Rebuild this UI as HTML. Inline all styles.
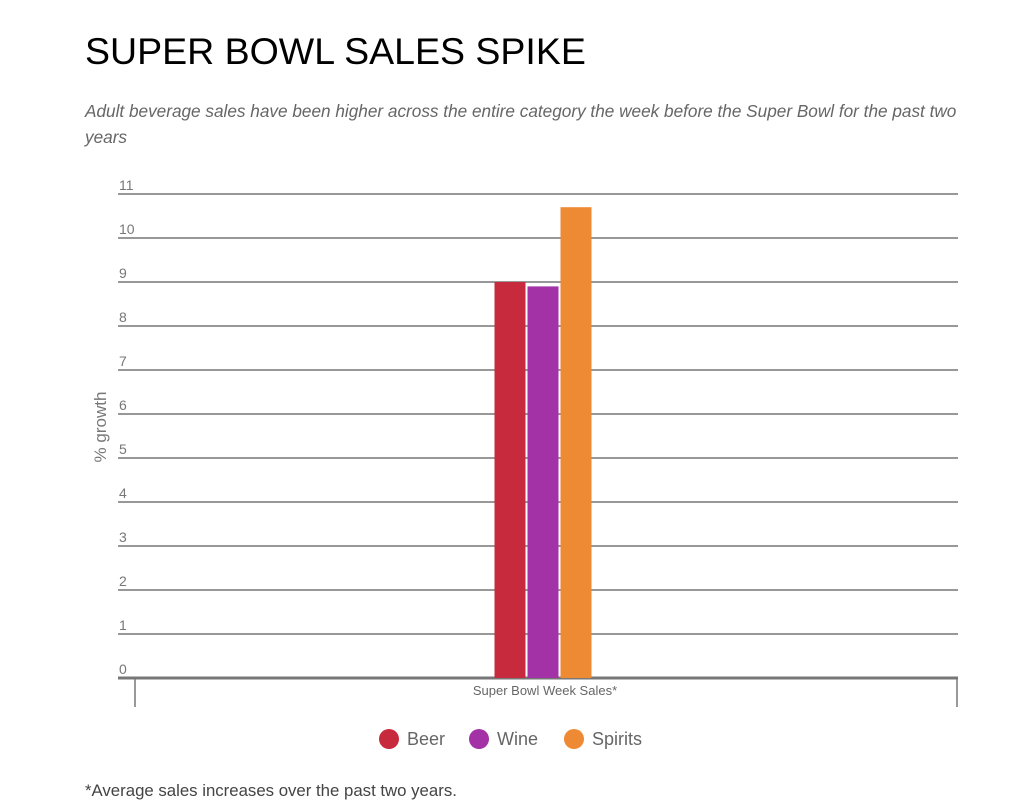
<!DOCTYPE html>
<html><head><meta charset="utf-8"><style>
body{margin:0;background:#fff;width:1024px;height:809px;overflow:hidden;font-family:"Liberation Sans",sans-serif}
.t{position:absolute;left:85px;top:30px;font-size:37.5px;color:#000;margin:0;font-weight:normal}
.s{position:absolute;left:85px;top:98px;width:900px;font-size:17.2px;font-style:italic;color:#666;line-height:26px;white-space:nowrap}
.f{position:absolute;left:85px;top:781px;font-size:16.8px;color:#444}
</style></head><body>
<h1 class="t">SUPER BOWL SALES SPIKE</h1>
<div class="s">Adult beverage sales have been higher across the entire category the week before the Super Bowl for the past two<br>years</div>
<svg id="c" width="1024" height="809" style="position:absolute;left:0;top:0"></svg>
<div class="f">*Average sales increases over the past two years.</div>
<script>
const categories=["Super Bowl Week Sales*"];
const seriesNames=["Beer","Wine","Spirits"];
const seriesValues=[9.0,8.9,10.7];
const seriesColors=["#c7293d","#a232a6","#ee8a34"];
const tickValues=[0,1,2,3,4,5,6,7,8,9,10,11];
const NS="http://www.w3.org/2000/svg",svg=document.getElementById('c');
function mk(t,a,p){const e=document.createElementNS(NS,t);for(const k in a)e.setAttribute(k,a[k]);(p||svg).appendChild(e);return e;}
const y0=678,pxPer=44;
function y(v){return y0-v*pxPer;}
tickValues.forEach(v=>{
 const l=mk('line',{x1:118,x2:958,y1:y(v),y2:y(v),stroke:'#777','stroke-width':v===0?3:1.5});
 
 
 const t=mk('text',{x:119,y:y(v)-4,'font-size':14,fill:'#777','font-family':'Liberation Sans, sans-serif'});
 t.textContent=v;
 
 
});
[135,957].forEach(x=>{const l=mk('line',{x1:x,x2:x,y1:679,y2:707,stroke:'#777','stroke-width':1.5});
 
 });
const yt=mk('text',{transform:'translate(106,427) rotate(-90)','text-anchor':'middle','font-size':17,fill:'#777','font-family':'Liberation Sans, sans-serif'});
yt.textContent='% growth';


const cx=543,bw=31,gap=2;
seriesValues.forEach((v,i)=>{
 const x=cx-(3*bw+2*gap)/2+i*(bw+gap);
 const r=mk('rect',{x:x,y:y(v),width:bw,height:y0-y(v),fill:seriesColors[i]});
 
 
});
const xl=mk('text',{x:545,y:695,'text-anchor':'middle','font-size':13,fill:'#666','font-family':'Liberation Sans, sans-serif'});
xl.textContent=categories[0];


const lx=[389,479,574];
seriesNames.forEach((n,i)=>{
 const c=mk('circle',{cx:lx[i],cy:739,r:10,fill:seriesColors[i]});
 
 
 const t=mk('text',{x:lx[i]+18,y:745,'font-size':18,fill:'#666','font-family':'Liberation Sans, sans-serif'});
 t.textContent=n;
 
 
});
</script>
</body></html>
